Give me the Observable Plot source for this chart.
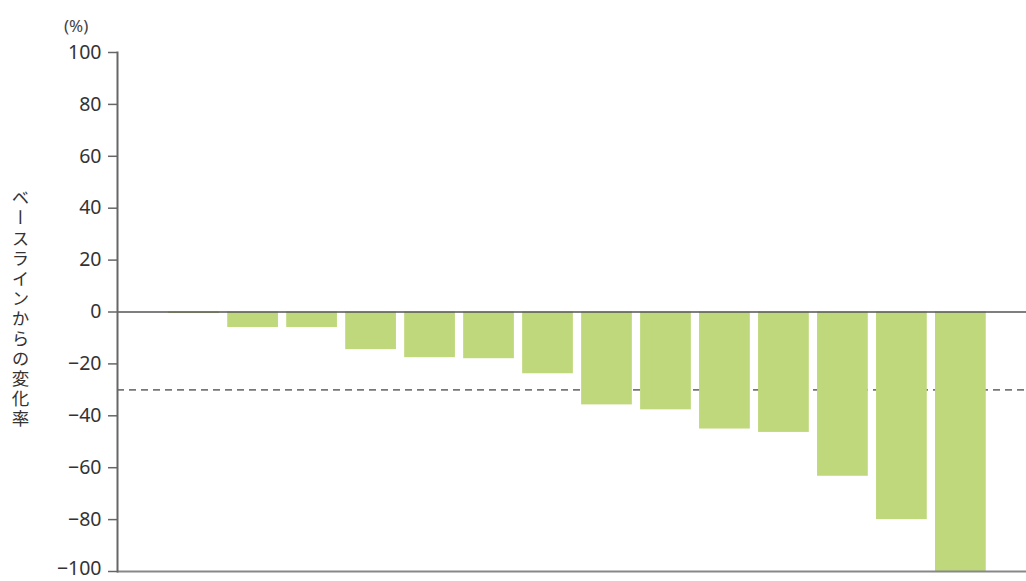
<!DOCTYPE html>
<html>
<head>
<meta charset="utf-8">
<script src="https://cdn.jsdelivr.net/npm/d3@7"></script>
<script src="https://cdn.jsdelivr.net/npm/@observablehq/plot@0.6"></script>
<style>
  html, body { margin: 0; padding: 0; background: #fff; }
  #wrap { position: relative; width: 1026px; height: 581px; overflow: hidden; }
  #wrap svg { overflow: visible; }
  #ylabel {
    position: absolute; left: 8px; top: 189px;
    writing-mode: vertical-rl; text-orientation: upright;
    font-family: "Noto Sans CJK JP", sans-serif; font-size: 17.5px;
    letter-spacing: 2.6px; color: #333;
  }
  #unit {
    position: absolute; left: 64px; top: 14px;
    font-family: "Noto Sans", sans-serif; font-size: 17px; color: #444;
  }
</style>
</head>
<body>
<div id="wrap">
  <div id="unit">(%)</div>
  <div id="ylabel">ベースラインからの変化率</div>
</div>
<script>
const patients = ["P1","P2","P3","P4","P5","P6","P7","P8","P9","P10","P11","P12","P13","P14"];
const changes = [-0.6, -6, -6, -14.5, -17.6, -18, -23.8, -35.8, -37.7, -45.1, -46.4, -63.3, -80, -100];
const yTicks = [100, 80, 60, 40, 20, 0, -20, -40, -60, -80, -100];
const threshold = -30;

const data = patients.map((p, i) => ({patient: p, change: changes[i]}));
const fmt = d => d < 0 ? "\u2212" + Math.abs(d) : String(d);
const lastTick = yTicks[yTicks.length - 1];

const chart = Plot.plot({
  width: 1026,
  height: 581,
  marginLeft: 117,
  marginRight: 0,
  marginTop: 52,
  marginBottom: 10,
  style: {fontFamily: "Noto Sans, sans-serif", color: "#333", background: "#fff"},
  x: {domain: patients, range: [160, 994], padding: 0.14, round: false, axis: null},
  y: {domain: [-100, 100], ticks: yTicks, label: null},
  marks: [
    Plot.ruleY([threshold], {stroke: "#777", strokeWidth: 1.6, strokeDasharray: "7,5"}),
    Plot.barY(data, {x: "patient", y: "change", fill: "#bfd87b"}),
    Plot.ruleY([0], {stroke: "#555", strokeWidth: 1.6}),
    Plot.ruleY([-100], {stroke: "#888", strokeWidth: 2.2}),
    Plot.axisY({ticks: yTicks, tickSize: 9, tickPadding: 7, stroke: "#666", strokeWidth: 1.5,
      fontSize: 19.5, fill: "#333", tickFormat: d => d === lastTick ? "" : fmt(d), label: null}),
    Plot.axisY({ticks: [lastTick], tickSize: 9, tickPadding: 7, stroke: "none",
      fontSize: 19.5, fill: "#333", tickFormat: fmt, label: null, dy: -3}),
    Plot.frame({anchor: "left", stroke: "#666", strokeWidth: 2})
  ]
});
document.getElementById("wrap").prepend(chart);
</script>
</body>
</html>
